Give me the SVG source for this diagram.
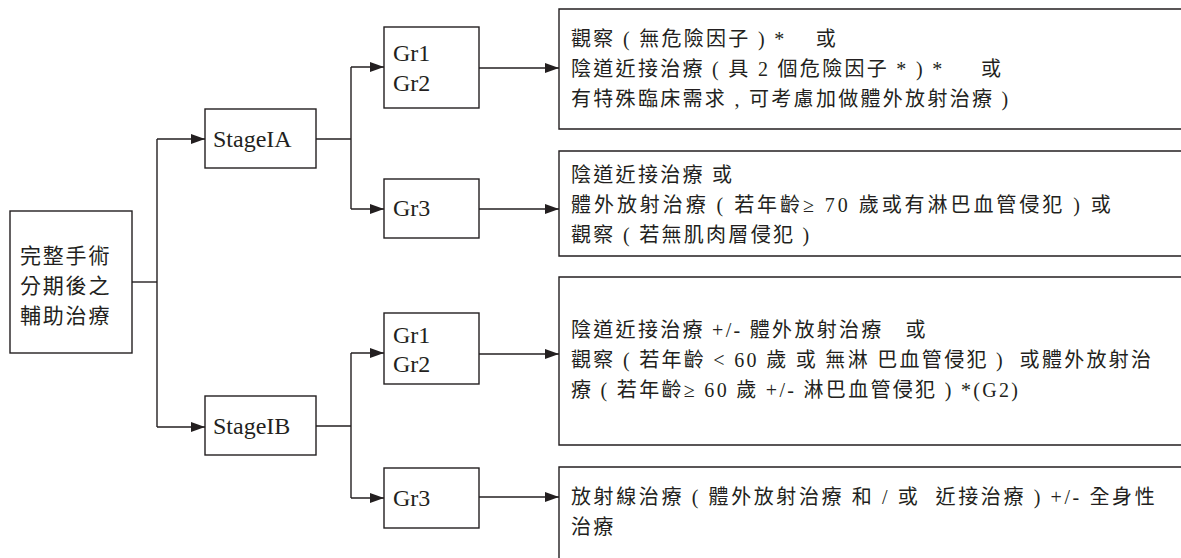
<svg xmlns="http://www.w3.org/2000/svg" width="1181" height="558" viewBox="0 0 1181 558">
<style>
.box{fill:#fff;stroke:#231f20;stroke-width:1.4}
.ln{fill:none;stroke:#231f20;stroke-width:1.4}
text{font-family:'Liberation Serif','Times New Roman','Noto Sans CJK TC',serif;fill:#231f20;white-space:pre}
.cj{font-size:20px;letter-spacing:2.3px}
.lt{font-size:24px}
.zh{font-size:21px;letter-spacing:1.8px}
</style>
<defs>
<marker id="ah" markerUnits="userSpaceOnUse" markerWidth="14" markerHeight="10" refX="14" refY="5" orient="auto">
<path d="M0,0 L14,5 L0,10 z" fill="#231f20"/>
</marker>
</defs>
<rect width="1181" height="558" fill="#fff"/>
<g id="connectors">
<path class="ln" d="M132,282 H157"/>
<path class="ln" d="M157,139 V427"/>
<path class="ln" d="M157,139 H205" marker-end="url(#ah)"/>
<path class="ln" d="M157,427 H205" marker-end="url(#ah)"/>
<path class="ln" d="M316,139 H351"/>
<path class="ln" d="M351,67 V209"/>
<path class="ln" d="M351,67 H384" marker-end="url(#ah)"/>
<path class="ln" d="M351,209 H384" marker-end="url(#ah)"/>
<path class="ln" d="M479,68 H559" marker-end="url(#ah)"/>
<path class="ln" d="M479,209 H559" marker-end="url(#ah)"/>
<path class="ln" d="M316,426 H351"/>
<path class="ln" d="M351,353 V498"/>
<path class="ln" d="M351,353 H384" marker-end="url(#ah)"/>
<path class="ln" d="M351,498 H384" marker-end="url(#ah)"/>
<path class="ln" d="M479,354 H559" marker-end="url(#ah)"/>
<path class="ln" d="M479,497 H559" marker-end="url(#ah)"/>
</g>
<g id="root">
<rect class="box" x="10" y="211" width="122" height="142"/>
<text class="zh" x="20" y="263" xml:space="preserve">完整手術</text>
<text class="zh" x="20" y="293" xml:space="preserve">分期後之</text>
<text class="zh" x="20" y="323" xml:space="preserve">輔助治療</text>
</g>
<g id="stageIA">
<rect class="box" x="205" y="109" width="111" height="59"/>
<text class="lt" x="213" y="147">StageIA</text>
</g>
<g id="stageIB">
<rect class="box" x="205" y="396" width="111" height="59"/>
<text class="lt" x="213" y="434">StageIB</text>
</g>
<g id="IA-gr12">
<rect class="box" x="384" y="27" width="95" height="81"/>
<text class="lt" x="393" y="61">Gr1</text>
<text class="lt" x="393" y="91">Gr2</text>
</g>
<g id="IA-gr3">
<rect class="box" x="384" y="179" width="95" height="59"/>
<text class="lt" x="393" y="216">Gr3</text>
</g>
<g id="IB-gr12">
<rect class="box" x="384" y="313" width="95" height="71"/>
<text class="lt" x="393" y="343">Gr1</text>
<text class="lt" x="393" y="372">Gr2</text>
</g>
<g id="IB-gr3">
<rect class="box" x="384" y="468" width="95" height="60"/>
<text class="lt" x="393" y="506">Gr3</text>
</g>
<g id="IA-gr12-tx">
<path class="box" d="M1181,9 H559 V129 H1181"/>
<text class="cj" x="571" y="46" xml:space="preserve">觀察 ( 無危險因子 ) *    或</text>
<text class="cj" x="571" y="76" xml:space="preserve">陰道近接治療 ( 具 2 個危險因子 * ) *     或</text>
<text class="cj" x="571" y="106" xml:space="preserve">有特殊臨床需求 , 可考慮加做體外放射治療 )</text>
</g>
<g id="IA-gr3-tx">
<path class="box" d="M1181,151 H559 V256 H1181"/>
<text class="cj" x="571" y="182" xml:space="preserve">陰道近接治療 或</text>
<text class="cj" x="571" y="212" xml:space="preserve" textLength="542" lengthAdjust="spacing">體外放射治療 ( 若年齡≥ 70 歲或有淋巴血管侵犯 ) 或</text>
<text class="cj" x="571" y="242" xml:space="preserve">觀察 ( 若無肌肉層侵犯 )</text>
</g>
<g id="IB-gr12-tx">
<path class="box" d="M1181,277 H559 V445 H1181"/>
<text class="cj" x="571" y="337" xml:space="preserve">陰道近接治療 +/- 體外放射治療   或</text>
<text class="cj" x="571" y="367" xml:space="preserve">觀察 ( 若年齡 &lt; 60 歲 或 無淋 巴血管侵犯 )  或體外放射治</text>
<text class="cj" x="571" y="397" xml:space="preserve">療 ( 若年齡≥ 60 歲 +/- 淋巴血管侵犯 ) *(G2)</text>
</g>
<g id="IB-gr3-tx">
<path class="box" d="M1181,467 H559 V558"/>
<text class="cj" x="571" y="504" xml:space="preserve" textLength="586" lengthAdjust="spacing">放射線治療 ( 體外放射治療 和 / 或  近接治療 ) +/- 全身性</text>
<text class="cj" x="571" y="534" xml:space="preserve">治療</text>
</g>
</svg>
